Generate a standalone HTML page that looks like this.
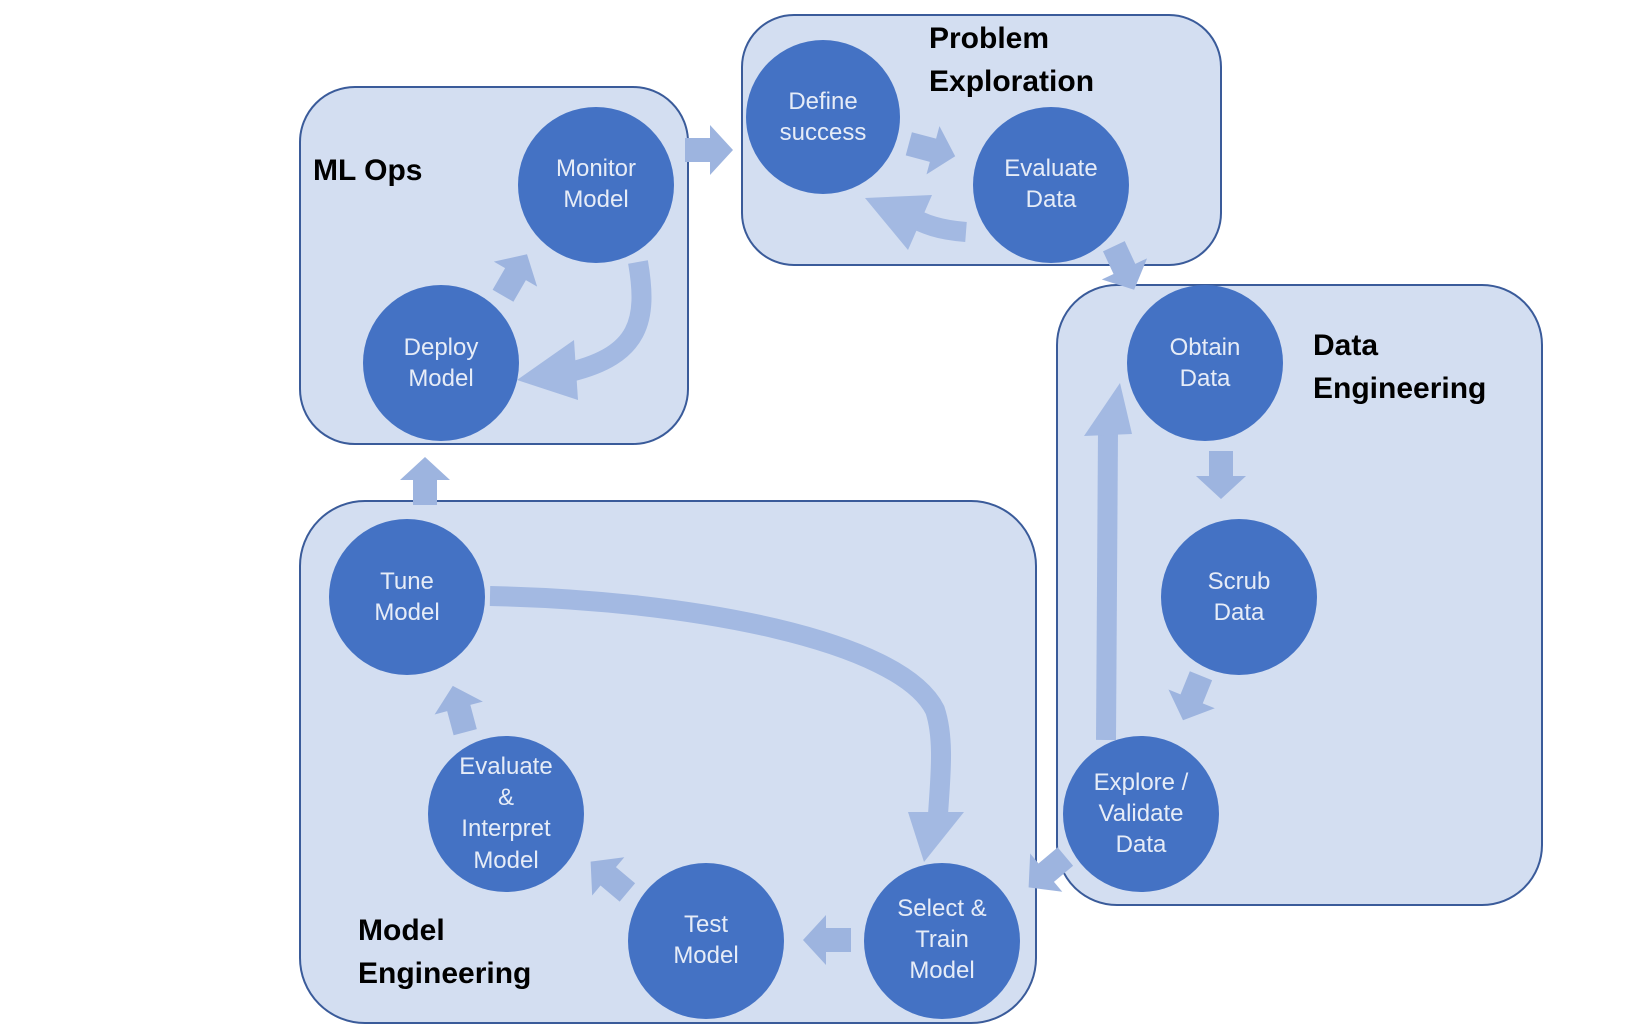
<!DOCTYPE html>
<html><head><meta charset="utf-8"><style>
html,body{margin:0;padding:0;background:#fff;}
svg{display:block;}
.c{fill:#4472C4;}
.b{fill:#D3DEF1;stroke:#3A5B9A;stroke-width:2;}
.t{font-family:"Liberation Sans",sans-serif;font-size:24px;fill:#E6ECF7;text-anchor:middle;}
.h{font-family:"Liberation Sans",sans-serif;font-size:30px;font-weight:bold;fill:#000;}
.a{fill:#9DB4DF;}
.s{fill:none;stroke:#A3B9E2;}
</style></head><body>
<svg width="1644" height="1024" viewBox="0 0 1644 1024">
<defs>
<polygon id="ar" points="-24,-12 1,-12 1,-25 24,0 1,25 1,12 -24,12"/>
</defs>
<rect class="b" x="742" y="15" width="479" height="250" rx="52"/>
<rect class="b" x="300" y="87" width="388" height="357" rx="55"/>
<rect class="b" x="1057" y="285" width="485" height="620" rx="60"/>
<rect class="b" x="300" y="501" width="736" height="522" rx="65"/>

<path class="s" stroke-width="20" d="M490,596 C 690,600 900,640 935,710 C 945,740 940,780 938,815"/>
<polygon points="908,812 964,812 924,862" fill="#A3B9E2"/>
<path class="s" stroke-width="20" d="M1106,740 L1108,430"/>
<polygon points="1084,436 1132,434 1120,383" fill="#A3B9E2"/>
<path class="s" stroke-width="20" d="M638,262 C 648,320 640,355 570,372"/>
<polygon points="517,380 574,340 578,400" fill="#A3B9E2"/>
<path class="s" stroke-width="20" d="M966,232 C 940,230 925,225 905,214"/>
<polygon points="865,198 932,195 908,250" fill="#A3B9E2"/>

<use href="#ar" class="a" transform="translate(709,150)"/>
<use href="#ar" class="a" transform="translate(932,150) rotate(15)"/>
<use href="#ar" class="a" transform="translate(1124,268) rotate(65)"/>
<use href="#ar" class="a" transform="translate(1221,475) rotate(90)"/>
<use href="#ar" class="a" transform="translate(1192,698) rotate(112)"/>
<use href="#ar" class="a" transform="translate(1047,872) rotate(140)"/>
<use href="#ar" class="a" transform="translate(827,940) rotate(180)"/>
<use href="#ar" class="a" transform="translate(609,877) rotate(-140)"/>
<use href="#ar" class="a" transform="translate(459,709) rotate(-105)"/>
<use href="#ar" class="a" transform="translate(425,481) rotate(-90)"/>
<use href="#ar" class="a" transform="translate(515,275) rotate(-60)"/>

<circle class="c" cx="823" cy="117" r="77"/>
<circle class="c" cx="1051" cy="185" r="78"/>
<circle class="c" cx="596" cy="185" r="78"/>
<circle class="c" cx="441" cy="363" r="78"/>
<circle class="c" cx="1205" cy="363" r="78"/>
<circle class="c" cx="1239" cy="597" r="78"/>
<circle class="c" cx="1141" cy="814" r="78"/>
<circle class="c" cx="407" cy="597" r="78"/>
<circle class="c" cx="506" cy="814" r="78"/>
<circle class="c" cx="706" cy="941" r="78"/>
<circle class="c" cx="942" cy="941" r="78"/>

<text class="t" x="823" y="109">Define</text><text class="t" x="823" y="140">success</text>
<text class="t" x="1051" y="176">Evaluate</text><text class="t" x="1051" y="207">Data</text>
<text class="t" x="596" y="176">Monitor</text><text class="t" x="596" y="207">Model</text>
<text class="t" x="441" y="355">Deploy</text><text class="t" x="441" y="386">Model</text>
<text class="t" x="1205" y="355">Obtain</text><text class="t" x="1205" y="386">Data</text>
<text class="t" x="1239" y="589">Scrub</text><text class="t" x="1239" y="620">Data</text>
<text class="t" x="1141" y="790">Explore /</text><text class="t" x="1141" y="821">Validate</text><text class="t" x="1141" y="852">Data</text>
<text class="t" x="407" y="589">Tune</text><text class="t" x="407" y="620">Model</text>
<text class="t" x="506" y="774">Evaluate</text><text class="t" x="506" y="805">&amp;</text><text class="t" x="506" y="836">Interpret</text><text class="t" x="506" y="868">Model</text>
<text class="t" x="706" y="932">Test</text><text class="t" x="706" y="963">Model</text>
<text class="t" x="942" y="916">Select &amp;</text><text class="t" x="942" y="947">Train</text><text class="t" x="942" y="978">Model</text>

<text class="h" x="929" y="48">Problem</text>
<text class="h" x="929" y="91">Exploration</text>
<text class="h" x="313" y="180">ML Ops</text>
<text class="h" x="1313" y="355">Data</text>
<text class="h" x="1313" y="398">Engineering</text>
<text class="h" x="358" y="940">Model</text>
<text class="h" x="358" y="983">Engineering</text>
</svg>
</body></html>
